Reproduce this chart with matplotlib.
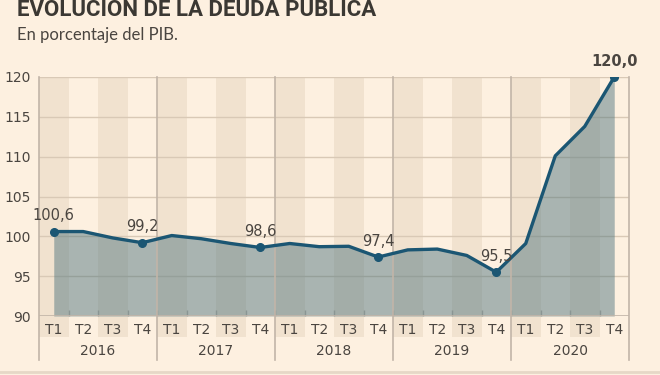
import numpy as np
import matplotlib.pyplot as plt
from matplotlib.lines import Line2D

years = ["2016", "2017", "2018", "2019", "2020"]
quarters = ["T1", "T2", "T3", "T4"]
deuda = [100.6, 100.6, 99.8, 99.2,
         100.1, 99.7, 99.1, 98.6,
         99.1, 98.7, 98.75, 97.4,
         98.3, 98.4, 97.6, 95.5,
         99.1, 110.1, 113.8, 120.0]
etiquetas = {0: "100,6", 3: "99,2", 7: "98,6", 11: "97,4", 15: "95,5", 19: "120,0"}

bg = "#fdf0e0"
band = "#f1e2cf"
grid_c = "#d9c9b6"
sep_c = "#c2b5a8"
line_c = "#1b5673"
text_c = "#4a4540"

plt.rcParams["font.family"] = ["Liberation Sans Narrow", "DejaVu Sans"]

fig = plt.figure(figsize=(6.6, 3.75), dpi=100, facecolor=bg)
ax = fig.add_axes([39 / 660, 59 / 375, 590 / 660, 239 / 375])
ax.set_facecolor(bg)

n = len(deuda)
x = np.arange(n)
ax.set_xlim(-0.5, n - 0.5)
ax.set_ylim(90, 120)

# bandas alternas (T1 y T3), bajan hasta la fila de etiquetas
band_low = -(337 - 316) / 239
for i in range(n):
    if i % 4 in (0, 2):
        ax.axvspan(i - 0.5, i + 0.5, ymin=band_low, ymax=1, color=band,
                   lw=0, zorder=0, clip_on=False)

# rejilla horizontal
for v in range(95, 121, 5):
    ax.axhline(v, color=grid_c, lw=1, zorder=1)

# separadores de año
sep_low = -(360 - 316) / 239
for b in np.arange(-0.5, n, 4):
    ax.axvline(b, ymin=sep_low, ymax=1, color=sep_c, lw=1.2, zorder=3, clip_on=False)

ax.fill_between(x, 90, deuda, color="#4b727c", alpha=0.47, lw=0, zorder=2)
ax.axhline(90, color=sep_c, lw=1.2, zorder=3)
ax.plot(x, deuda, color=line_c, lw=2.4, zorder=4, solid_joinstyle="round")
idx = list(etiquetas.keys())
ax.plot(x[idx], [deuda[i] for i in idx], "o", color=line_c, ms=5.5, zorder=5)

for i, t in etiquetas.items():
    ax.annotate(t, (x[i], deuda[i]), xytext=(0, 6), textcoords="offset points",
                ha="center", va="bottom", fontsize=10.5, color=text_c,
                fontweight="bold" if i == n - 1 else "normal", zorder=6)

for s in ax.spines.values():
    s.set_visible(False)

ax.set_yticks(range(90, 121, 5))
ax.tick_params(axis="y", length=0, pad=6, labelsize=10, labelcolor=text_c)
ax.set_xticks(x)
ax.set_xticklabels(quarters * len(years))
ax.tick_params(axis="x", length=0, pad=5, labelsize=10, labelcolor=text_c)
ax.set_xticks(np.arange(0.5, n - 1, 1), minor=True)
ax.tick_params(axis="x", which="minor", direction="in", length=4, color=sep_c, width=1)

for k, y in enumerate(years):
    ax.text(4 * k + 1.5, -(351 - 316) / 239, y, transform=ax.get_xaxis_transform(),
            ha="center", va="center", fontsize=10, color=text_c)

fig.text(17 / 660, 1 - 16 / 375, "EVOLUCIÓN DE LA DEUDA PÚBLICA", family="Roboto",
         fontweight="bold", fontsize=16, color="#3b3833", ha="left", va="baseline")
fig.text(17 / 660, 1 - 35 / 375, "En porcentaje del PIB.", family="Lato",
         fontsize=12, color=text_c, ha="left", va="center")
fig.add_artist(Line2D([0, 1], [3 / 375, 3 / 375], color="#e6d8c7", lw=2,
                      transform=fig.transFigure))

fig.savefig("out.png", dpi=100, facecolor=bg)
